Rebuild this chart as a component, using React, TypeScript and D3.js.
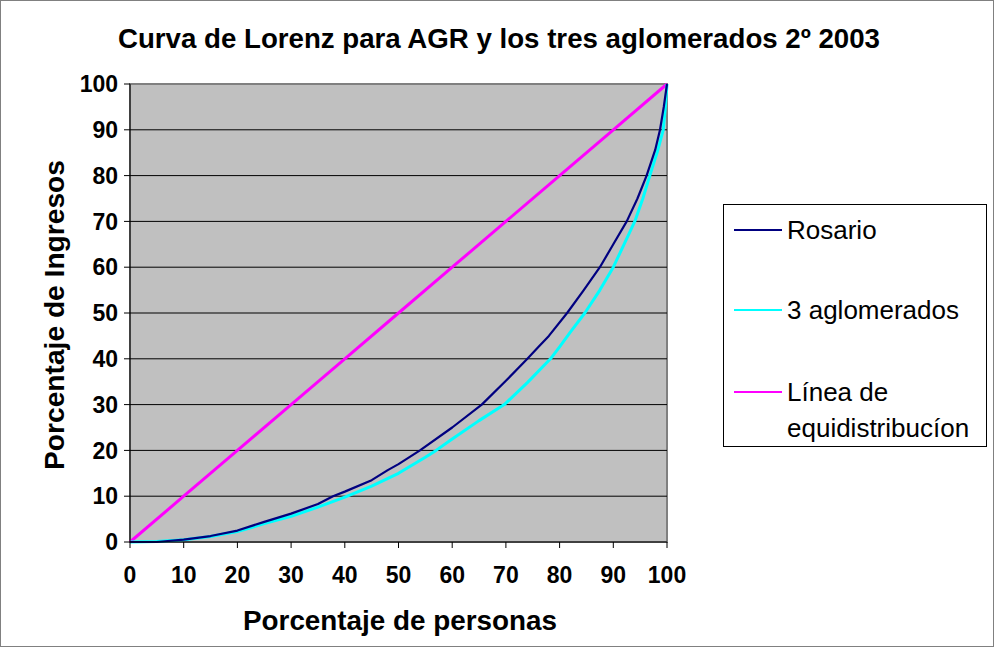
import * as d3 from 'd3';
import React from 'react';

// Lorenz curve readings (percentage of people, percentage of income)
const rosarioX = [0, 5, 10, 15, 20, 25, 30, 35, 37.8, 40, 45, 48, 50, 54, 60, 65.5, 70, 74, 76, 78, 81.4, 84.5, 87.5, 90, 92.5, 94.5, 96.2, 97.8, 98.7, 99.4, 100];
const rosarioY = [0, 0, 0.5, 1.3, 2.5, 4.4, 6.2, 8.3, 10, 11, 13.5, 15.7, 17, 20, 25, 30, 35.2, 40, 42.5, 45, 50, 55, 60, 65, 70, 75, 80, 85.6, 90, 95, 100];

const aglomX = [0, 5, 10, 15, 20, 25, 30, 35, 40, 45, 50, 55, 57, 60, 65, 69.7, 74, 78.3, 80, 82, 84.7, 87.5, 90, 92, 94, 95.5, 96.8, 98.3, 99.3, 99.7, 100];
const aglomY = [0, 0.1, 0.5, 1.2, 2.3, 4.0, 5.6, 7.6, 9.8, 12.2, 15, 18.5, 20, 22.5, 26.5, 30, 34.8, 40, 42.6, 45.8, 50, 55, 60, 65, 70, 75, 80, 85.6, 90, 95, 100];

const equidX = [0, 10, 20, 30, 40, 50, 60, 70, 80, 90, 100];
const equidY = [0, 10, 20, 30, 40, 50, 60, 70, 80, 90, 100];

const xTicks = [0, 10, 20, 30, 40, 50, 60, 70, 80, 90, 100];
const yTicks = [0, 10, 20, 30, 40, 50, 60, 70, 80, 90, 100];

const seriesColors = ['#000080', '#00FFFF', '#FF00FF'];
const seriesWidths = [2.2, 3, 3];

const W = 994;
const H = 647;
const plot = { left: 130, top: 84, right: 667, bottom: 542 };
const font = '"Liberation Sans", Arial, sans-serif';

const App: React.FC = () => {
  const x = d3.scaleLinear().domain([0, 100]).range([plot.left, plot.right]);
  const y = d3.scaleLinear().domain([0, 100]).range([plot.bottom, plot.top]);

  const line = d3.line<[number, number]>()
    .x(d => x(d[0]))
    .y(d => y(d[1]));

  const zip = (a: number[], b: number[]) => a.map((v, i) => [v, b[i]] as [number, number]);
  const series = [zip(rosarioX, rosarioY), zip(aglomX, aglomY), zip(equidX, equidY)];
  // draw order: equidistribution, 3 aglomerados, Rosario on top
  const order = [2, 1, 0];

  const legendRows = [
    { y: 230, lines: ['Rosario'] },
    { y: 310, lines: ['3 aglomerados'] },
    { y: 392, lines: ['Línea de', 'equidistribucíon'] },
  ];

  return (
    <svg width={W} height={H} style={{ position: 'absolute', left: 0, top: 0 }} fontFamily={font}>
      <rect x={0.5} y={0.5} width={W - 1} height={H - 1} fill="#fff" stroke="#808080" />

      <text x={499} y={48} textAnchor="middle" fontSize={27} fontWeight="bold" textLength={762} lengthAdjust="spacingAndGlyphs">
        Curva de Lorenz para AGR y los tres aglomerados 2º 2003
      </text>

      <rect x={plot.left} y={plot.top} width={plot.right - plot.left} height={plot.bottom - plot.top} fill="#C0C0C0" stroke="#808080" strokeWidth={2} />

      {yTicks.filter(t => t > 0 && t < 100).map(t => (
        <line key={t} x1={plot.left} x2={plot.right} y1={y(t)} y2={y(t)} stroke="#000" strokeWidth={1} />
      ))}

      {order.map(i => (
        <path key={i} d={line(series[i]) || ''} fill="none" stroke={seriesColors[i]} strokeWidth={seriesWidths[i]} strokeLinejoin="round" />
      ))}

      <line x1={plot.left} x2={plot.left} y1={plot.top} y2={plot.bottom} stroke="#000" strokeWidth={1} />
      <line x1={plot.left} x2={plot.right} y1={plot.bottom} y2={plot.bottom} stroke="#000" strokeWidth={1} />

      {yTicks.map(t => (
        <g key={t}>
          <line x1={plot.left - 6} x2={plot.left} y1={y(t)} y2={y(t)} stroke="#000" />
          <text x={plot.left - 12} y={y(t)} dy="0.36em" textAnchor="end" fontSize={23} fontWeight="bold">{t}</text>
        </g>
      ))}
      {xTicks.map(t => (
        <g key={t}>
          <line x1={x(t)} x2={x(t)} y1={plot.bottom} y2={plot.bottom + 6} stroke="#000" />
          <text x={x(t)} y={575} dy="0.36em" textAnchor="middle" fontSize={23} fontWeight="bold">{t}</text>
        </g>
      ))}

      <text x={400} y={630} textAnchor="middle" fontSize={27} fontWeight="bold" textLength={314} lengthAdjust="spacingAndGlyphs">Porcentaje de personas</text>
      <text transform="translate(64,315) rotate(-90)" textAnchor="middle" fontSize={27} fontWeight="bold" textLength={310} lengthAdjust="spacingAndGlyphs">Porcentaje de Ingresos</text>

      <rect x={723.5} y={204.5} width={263} height={242} fill="#fff" stroke="#000" />
      {legendRows.map((r, i) => (
        <g key={i}>
          <line x1={734} x2={782} y1={r.y} y2={r.y} stroke={seriesColors[i]} strokeWidth={2} />
          {r.lines.map((s, j) => (
            <text key={j} x={787} y={r.y + j * 36} dy="0.35em" fontSize={26}>{s}</text>
          ))}
        </g>
      ))}
    </svg>
  );
};

export default App;
